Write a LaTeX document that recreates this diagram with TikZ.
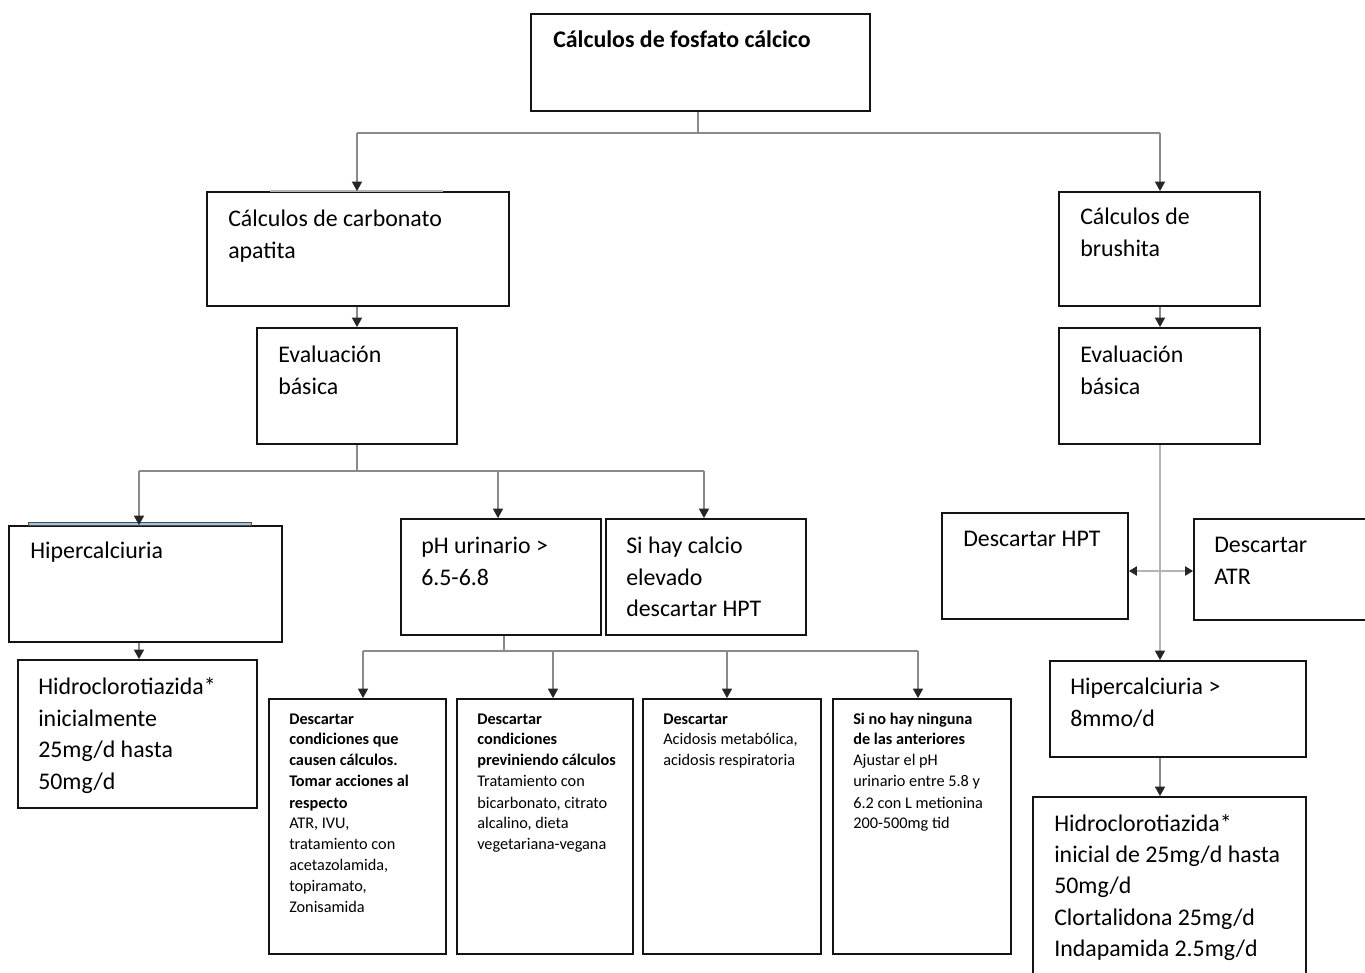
\documentclass[tikz,border=0pt]{standalone}
\usepackage{fontspec}
\setmainfont{Carlito}
\usetikzlibrary{arrows.meta,fit}
\newcommand\tl[1]{\begin{tabular}[t]{@{}l@{}}#1\end{tabular}}
\definecolor{linegray}{HTML}{8A8A8A}
\definecolor{palegray}{HTML}{B4B4B4}
\definecolor{tipgray}{HTML}{262626}
\definecolor{paleblue}{HTML}{9DC3E6}
\begin{document}
\begin{tikzpicture}[x=0.75pt,y=-0.75pt,
  box/.style={draw=black!92,line width=1.4pt,inner sep=0pt},
  big/.style={inner sep=0pt,anchor=base west,font=\fontsize{17.9}{23.6}\selectfont},
  title/.style={inner sep=0pt,anchor=base west,font=\fontsize{17.9}{23.6}\selectfont\bfseries},
  small/.style={inner sep=0pt,anchor=base west,font=\fontsize{12.2}{15.75}\selectfont},
  conn/.style={draw=linegray,line width=0.85pt},
  paleconn/.style={draw=palegray,line width=0.9pt},
  tip/.style={-{Triangle[length=7pt,width=7.5pt,color=tipgray]}},
  bothtips/.style={{Triangle[length=6pt,width=7pt,color=tipgray]}-{Triangle[length=6pt,width=7pt,color=tipgray]}}
]
\useasboundingbox (0,0) rectangle (1365,973);

% boxes
\node[box,fit={(531,14)(870,111)}] (top) {};
\node[box,fit={(207,192)(509,306)}] (carb) {};
\node[box,fit={(1059,192)(1260,306)}] (brush) {};
\node[box,fit={(257,328)(457,444)}] (evalL) {};
\node[box,fit={(1059,328)(1260,444)}] (evalR) {};
\node[box,fit={(9,526)(282,642)}] (hiperL) {};
\node[box,fit={(18,660)(257,808)}] (hidroL) {};
\node[box,fit={(401,519)(601,635)}] (ph) {};
\node[box,fit={(606,519)(806,635)}] (calcio) {};
\node[box,fit={(269,699)(446,954)}] (d1) {};
\node[box,fit={(457,699)(633,954)}] (d2) {};
\node[box,fit={(643,699)(821,954)}] (d3) {};
\node[box,fit={(833,699)(1011,954)}] (d4) {};
\node[box,fit={(942,513)(1128,619)}] (hpt) {};
\node[box,fit={(1194,519)(1370,620)}] (atr) {};
\node[box,fit={(1050,661)(1306,757)}] (hiperR) {};
\node[box,fit={(1033,797)(1306,985)}] (hidroR) {};

% small stray edges above two boxes
\draw[draw=palegray,line width=0.8pt] (270,191) -- (443,191);
\draw[draw=black!70,fill=paleblue,line width=0.5pt] (28,522.5) rectangle (251,525);

% texts
\node[title] (ttop) at (553,48) {Cálculos de fosfato cálcico};
\node[big] (tcarb) at (228,227) {\tl{Cálculos de carbonato\\apatita}};
\node[big] (tbrush) at (1080,225) {\tl{Cálculos de\\brushita}};
\node[big] (tevalL) at (278,363) {\tl{Evaluación\\básica}};
\node[big] (tevalR) at (1080,363) {\tl{Evaluación\\básica}};
\node[big] (thiperL) at (30,559) {Hipercalciuria};
\node[big] (thidroL) at (38,695) {\tl{Hidroclorotiazida*\\inicialmente\\25mg/d hasta\\50mg/d}};
\node[big] (tph) at (421,554) {\tl{pH urinario >\\6.5-6.8}};
\node[big] (tcalcio) at (626,554) {\tl{Si hay calcio\\elevado\\descartar HPT}};
\node[small] (td1) at (289,724) {\tl{\textbf{Descartar}\\\textbf{condiciones que}\\\textbf{causen cálculos.}\\\textbf{Tomar acciones al}\\\textbf{respecto}\\ATR, IVU,\\tratamiento con\\acetazolamida,\\topiramato,\\Zonisamida}};
\node[small] (td2) at (477,724) {\tl{\textbf{Descartar}\\\textbf{condiciones}\\\textbf{previniendo cálculos}\\Tratamiento con\\bicarbonato, citrato\\alcalino, dieta\\vegetariana-vegana}};
\node[small] (td3) at (663,724) {\tl{\textbf{Descartar}\\Acidosis metabólica,\\acidosis respiratoria}};
\node[small] (td4) at (853,724) {\tl{\textbf{Si no hay ninguna}\\\textbf{de las anteriores}\\Ajustar el pH\\urinario entre 5.8 y\\6.2 con L metionina\\200-500mg tid}};
\node[big] (thpt) at (963,547) {Descartar HPT};
\node[big] (tatr) at (1214,553) {\tl{Descartar\\ATR}};
\node[big] (thiperR) at (1070,695) {\tl{Hipercalciuria >\\8mmo/d}};
\node[big] (thidroR) at (1054,831) {\tl{Hidroclorotiazida*\\inicial de 25mg/d hasta\\50mg/d\\Clortalidona 25mg/d\\Indapamida 2.5mg/d}};

% junction coordinates
\coordinate (j1) at (698,133);
\coordinate (jl) at (357,133);
\coordinate (jr) at (1160,133);
\coordinate (j2) at (357,471);
\coordinate (a1) at (139,471);
\coordinate (a2) at (498,471);
\coordinate (a3) at (704,471);
\coordinate (b0) at (504,651);
\coordinate (b1) at (363,651);
\coordinate (b2) at (553,651);
\coordinate (b3) at (727,651);
\coordinate (b4) at (918,651);
\coordinate (c0) at (1160,571);

% connectors
\draw[conn] (j1 |- top.south) -- (j1);
\draw[conn] (jl) -- (jr);
\draw[conn,tip] (jl) -- (jl |- carb.north);
\draw[conn,tip] (jr) -- (jr |- brush.north);
\draw[conn,tip] (jl |- carb.south) -- (jl |- evalL.north);
\draw[conn,tip] (jr |- brush.south) -- (jr |- evalR.north);

\draw[conn] (j2 |- evalL.south) -- (j2);
\draw[conn] (a1) -- (a3);
\draw[conn,tip] (a1) -- (a1 |- hiperL.north);
\draw[conn,tip] (a2) -- (a2 |- ph.north);
\draw[conn,tip] (a3) -- (a3 |- calcio.north);
\draw[conn,tip] (a1 |- hiperL.south) -- (a1 |- hidroL.north);

\draw[conn] (b0 |- ph.south) -- (b0);
\draw[conn] (b1) -- (b4);
\draw[conn,tip] (b1) -- (b1 |- d1.north);
\draw[conn,tip] (b2) -- (b2 |- d2.north);
\draw[conn,tip] (b3) -- (b3 |- d3.north);
\draw[conn,tip] (b4) -- (b4 |- d4.north);

\draw[paleconn,tip] (c0 |- evalR.south) -- (c0 |- hiperR.north);
\draw[paleconn,bothtips] (hpt.east |- c0) -- (atr.west |- c0);
\draw[conn,tip] (c0 |- hiperR.south) -- (c0 |- hidroR.north);
\end{tikzpicture}
\end{document}
